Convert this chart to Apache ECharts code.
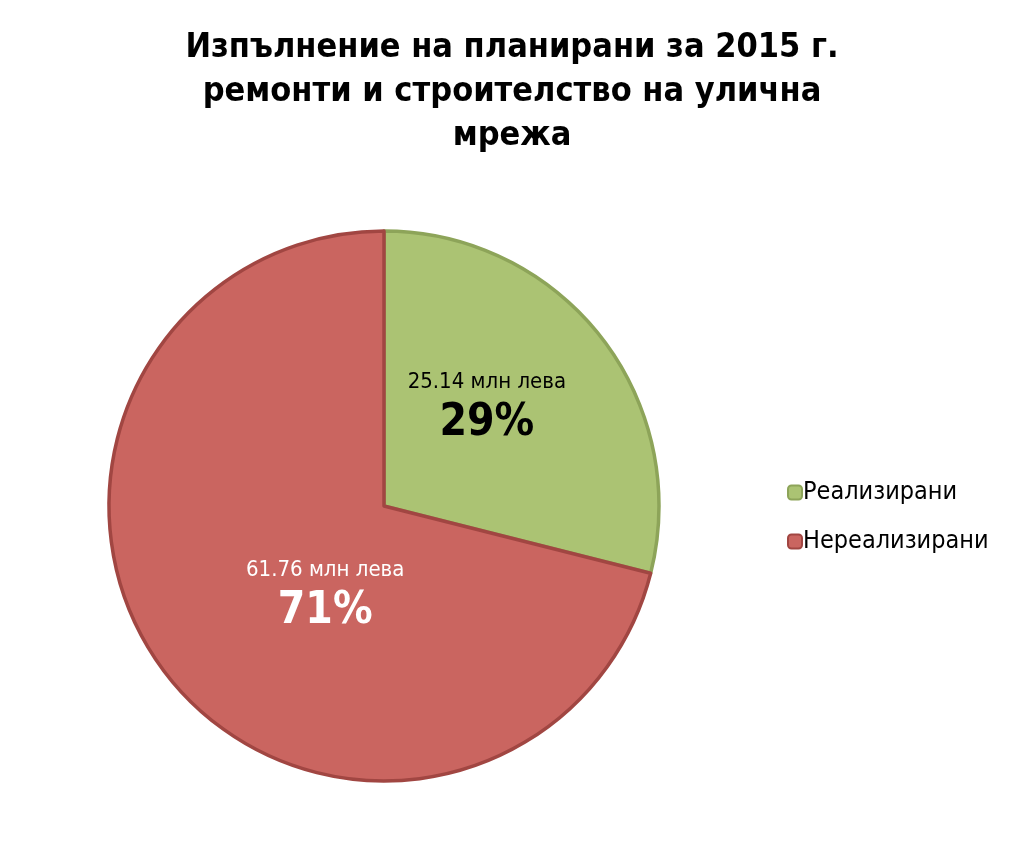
<!DOCTYPE html>
<html><head><meta charset="utf-8">
<script src="https://cdn.jsdelivr.net/npm/echarts@6/dist/echarts.min.js"></script>
<style>html,body{margin:0;padding:0;background:#fff}#c{width:1024px;height:852px}</style>
</head><body><div id="c"></div>
<script>
const titleText = 'Изпълнение на планирани за 2015 г.\nремонти и строителство на улична\nмрежа';
const categories = ['Реализирани', 'Нереализирани'];
const values = [25.14, 61.76];
const percentLabels = ['29%', '71%'];
const unit = 'млн лева';

const fills = ['#ABC373', '#CA6560'];
const borders = ['#8DA459', '#A14642'];
const labelColors = ['#000000', '#ffffff'];
const labelShift = [[-8, -14], [52, 1]];
const FONT = '"Liberation Sans Narrow", "DejaVu Sans Condensed", sans-serif';

const chart = echarts.init(document.getElementById('c'), null, {renderer: 'canvas'});
chart.setOption({
  animation: false,
  backgroundColor: '#fff',
  title: {
    text: titleText, left: 'center', top: 21,
    textStyle: {fontFamily: FONT, fontWeight: 'bold', fontSize: 34, lineHeight: 44, color: '#000'}
  },
  legend: {
    orient: 'vertical', left: 782, top: 475, itemGap: 24,
    itemWidth: 14, itemHeight: 14, icon: 'roundRect',
    textStyle: {fontFamily: FONT, fontSize: 25, color: '#000', padding: [0, 0, 0, -4]},
    data: categories
  },
  series: [{
    type: 'pie',
    center: [384, 506],
    radius: [0, 275],
    startAngle: 90,
    clockwise: true,
    avoidLabelOverlap: false,
    data: categories.map((c, i) => ({
      name: c, value: values[i],
      itemStyle: {color: fills[i], borderColor: borders[i], borderWidth: 3.5},
      label: {color: labelColors[i]}
    })),
    label: {
      show: true, position: 'inside',
      formatter: p => '{a|' + p.value.toFixed(2) + ' ' + unit + '}\n{b|' + percentLabels[p.dataIndex] + '}',
      rich: {
        a: {fontFamily: FONT, fontSize: 22, lineHeight: 36, align: 'center'},
        b: {fontFamily: FONT, fontSize: 44, fontWeight: 'bold', lineHeight: 46, align: 'center'}
      }
    },
    labelLayout: p => ({dx: labelShift[p.dataIndex][0], dy: labelShift[p.dataIndex][1]}),
    labelLine: {show: false},
    emphasis: {disabled: true}
  }]
});
</script></body></html>
